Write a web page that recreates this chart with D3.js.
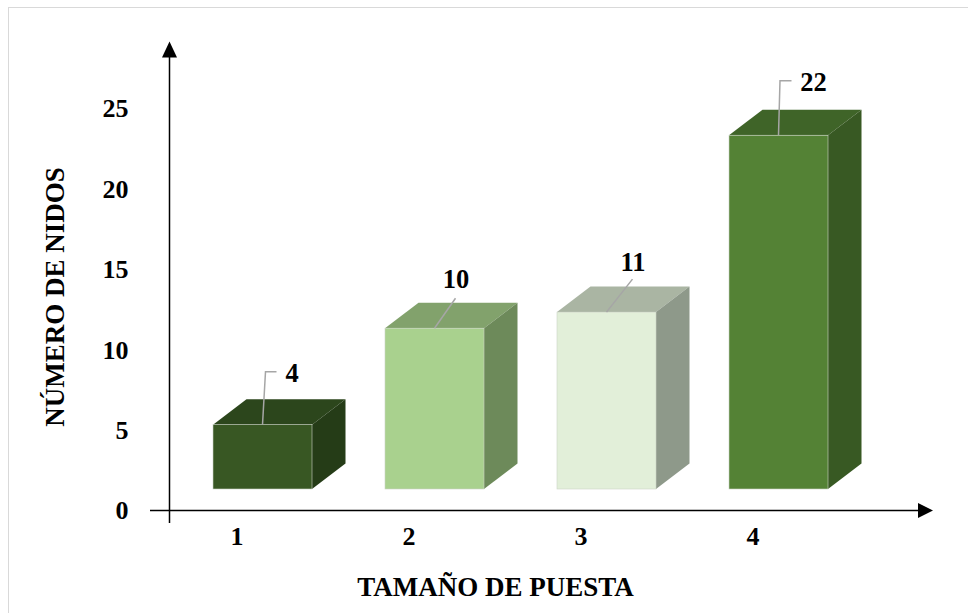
<!DOCTYPE html>
<html>
<head>
<meta charset="utf-8">
<script src="https://cdn.jsdelivr.net/npm/d3@7"></script>
<style>
  html, body { margin: 0; padding: 0; background: #ffffff; }
  svg { display: block; }
  text { font-family: "Liberation Serif", "Times New Roman", serif; font-weight: bold; fill: #000; }
</style>
</head>
<body>
<svg id="chart" width="968" height="613"></svg>
<script>
// Nest sizes (clutch size) and number of nests observed
const categories = ["1", "2", "3", "4"];
const nestCounts = [4, 10, 11, 22];
const yTicks = [0, 5, 10, 15, 20, 25];

// Face colours for each bar: front, top, side
const frontColors = ["#385723", "#a9d18e", "#e2efd9", "#548235"];
const topColors   = ["#2c461c", "#82a26c", "#aab5a3", "#3f6428"];
const sideColors  = ["#253c17", "#6d8a5a", "#8e998a", "#385923"];

// Leader line shapes (relative to the centre of each bar's top front edge) and label anchors
const leaderPaths = [
  [[0, 0], [3, -53], [14, -53]],
  [[0, 0], [21, -30]],
  [[0, 0], [26, -33]],
  [[0, 0], [1.5, -54.5], [13, -54.5]]
];
const labelAnchors = [[29.5, -52], [21.5, -49], [26.5, -50.5], [35, -53.5]];

const svg = d3.select("#chart");

// outer frame
svg.append("rect")
  .attr("x", 8.5).attr("y", 7.5)
  .attr("width", 980).attr("height", 620)
  .attr("fill", "none").attr("stroke", "#d9d9d9").attr("stroke-width", 1);

const axisX = 169.5;
const axisY = 510.5;

const y = d3.scaleLinear().domain([0, 25]).range([axisY, 108.5]);
const x = d3.scaleBand().domain(categories)
  .range([151, 839]).paddingInner(0.4244).paddingOuter(0.2122);

// oblique projection: bars sit behind the axis plane
const planeDx = 25.5, planeDy = -21.5;   // axis plane -> bar front face
const depthDx = 33.5, depthDy = -25.5;   // bar front face -> back face

const bars = svg.append("g");
categories.forEach((c, i) => {
  const v = nestCounts[i];
  const x0 = x(c) + planeDx;
  const x1 = x0 + x.bandwidth();
  const yb = axisY + planeDy;
  const yt = y(v) + planeDy;
  const g = bars.append("g");
  // top face
  g.append("path")
    .attr("d", d3.line()([[x0, yt], [x0 + depthDx, yt + depthDy], [x1 + depthDx, yt + depthDy], [x1, yt]]) + "Z")
    .attr("fill", topColors[i]);
  // side face
  g.append("path")
    .attr("d", d3.line()([[x1, yt], [x1 + depthDx, yt + depthDy], [x1 + depthDx, yb + depthDy], [x1, yb]]) + "Z")
    .attr("fill", sideColors[i]);
  // front face
  g.append("rect")
    .attr("x", x0).attr("y", yt)
    .attr("width", x.bandwidth()).attr("height", yb - yt)
    .attr("fill", frontColors[i])
    .attr("stroke", "#ccd3c6").attr("stroke-width", 0.6);

  // leader line and value label
  const ax = x0 + x.bandwidth() / 2, ay = yt;
  g.append("path")
    .attr("d", d3.line()(leaderPaths[i].map(p => [ax + p[0], ay + p[1]])))
    .attr("fill", "none").attr("stroke", "#a6a6a6").attr("stroke-width", 1.5);
  g.append("text")
    .attr("x", ax + labelAnchors[i][0])
    .attr("y", ay + labelAnchors[i][1])
    .attr("dy", "0.35em")
    .attr("text-anchor", "middle")
    .style("font-size", "26.5px")
    .text(v);
});

// value axis labels
const yAxis = d3.axisLeft(y).tickValues(yTicks).tickSize(0).tickPadding(41);
svg.append("g")
  .attr("transform", `translate(${axisX},0)`)
  .call(yAxis)
  .call(g => g.select(".domain").remove())
  .call(g => g.selectAll("text")
    .attr("font-family", null).attr("font-size", null).attr("fill", null)
    .style("font-size", "26px"));

// category axis labels
const xAxis = d3.axisBottom(x).tickSize(0).tickPadding(16);
svg.append("g")
  .attr("transform", `translate(0,${axisY})`)
  .call(xAxis)
  .call(g => g.select(".domain").remove())
  .call(g => g.selectAll("text")
    .attr("font-family", null).attr("font-size", null).attr("fill", null)
    .style("font-size", "26px"));

// axis lines with arrowheads
svg.append("line")
  .attr("x1", axisX).attr("x2", axisX)
  .attr("y1", 523).attr("y2", 56)
  .attr("stroke", "#000").attr("stroke-width", 1.5);
svg.append("path")
  .attr("d", d3.line()([[axisX, 41.5], [axisX - 7.5, 57.5], [axisX + 7.5, 57.5]]) + "Z")
  .attr("fill", "#000");

svg.append("line")
  .attr("x1", 150).attr("x2", 919)
  .attr("y1", axisY).attr("y2", axisY)
  .attr("stroke", "#000").attr("stroke-width", 1.5);
svg.append("path")
  .attr("d", d3.line()([[933, axisY], [918, axisY - 7.5], [918, axisY + 7.5]]) + "Z")
  .attr("fill", "#000");

// axis titles
svg.append("text")
  .attr("transform", "translate(55,297) rotate(-90)")
  .attr("text-anchor", "middle")
  .attr("dy", "0.35em")
  .style("font-size", "27px")
  .text("NÚMERO DE NIDOS");

svg.append("text")
  .attr("x", 495.5).attr("y", 587)
  .attr("text-anchor", "middle")
  .attr("dy", "0.35em")
  .style("font-size", "27px")
  .text("TAMAÑO DE PUESTA");
</script>
</body>
</html>
